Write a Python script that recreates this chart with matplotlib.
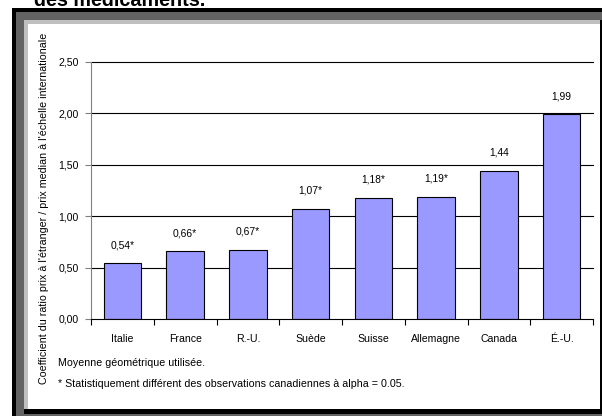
import matplotlib
matplotlib.use("Agg")
import matplotlib.pyplot as plt
from matplotlib.patches import Rectangle
from matplotlib.ticker import FixedLocator, FuncFormatter

# Data
pays = ["Italie", "France", "R.-U.", "Suède", "Suisse", "Allemagne", "Canada", "É.-U."]
ratios = [0.54, 0.66, 0.67, 1.07, 1.18, 1.19, 1.44, 1.99]
significatif = [True, True, True, True, True, True, False, False]
y_ticks = [0.0, 0.5, 1.0, 1.5, 2.0, 2.5]

titre = "des médicaments."
y_label = "Coefficient du ratio prix à l'étranger / prix median à l'échelle internationale"
note1 = "Moyenne géométrique utilisée."
note2 = "* Statistiquement différent des observations canadiennes à alpha = 0.05."

W, H = 602, 416
plt.rcParams["font.family"] = ["Liberation Sans", "DejaVu Sans"]
fig = plt.figure(figsize=(W / 100, H / 100), dpi=100)


def px_rect(x0, y0, x1, y1, color):
    """Rectangle given in pixel coordinates measured from the top-left corner."""
    fig.add_artist(Rectangle((x0 / W, 1 - y1 / H), (x1 - x0) / W, (y1 - y0) / H,
                             transform=fig.transFigure, facecolor=color,
                             edgecolor="none", zorder=0))


# Framed panel with a bevelled border
px_rect(12, 8, 602, 416, "#000000")
px_rect(16, 12, 602, 416, "#636363")
px_rect(24, 20, 602, 414, "#000000")
px_rect(24, 20, 600, 409, "#c0c0c0")
px_rect(28, 24, 600, 409, "#ffffff")

# Title line running off the top edge
fig.text(34 / W, 1 - 5.5 / H, titre, fontsize=14.2, fontweight="bold",
         va="baseline", ha="left", color="black")

ax = fig.add_axes([91 / W, 1 - 319 / H, 502 / W, (319 - 61.7) / H])
ax.set_facecolor("white")
ax.patch.set_alpha(0)

x = list(range(len(pays)))
ax.bar(x, ratios, width=0.6, color="#9999ff", edgecolor="#000000",
       linewidth=0.8, zorder=2)

for xi, v, s in zip(x, ratios, significatif):
    txt = f"{v:.2f}".replace(".", ",") + ("*" if s else "")
    ax.annotate(txt, (xi, v), xytext=(0, 13), textcoords="offset points",
                ha="center", va="center", fontsize=7.4, color="black")

ax.set_xlim(-0.5, len(pays) - 0.5)
ax.set_ylim(0, 2.5)

# Horizontal grid lines
for t in y_ticks[1:]:
    ax.axhline(t, color="black", linewidth=0.8, zorder=1, clip_on=False)

ax.yaxis.set_major_locator(FixedLocator(y_ticks))
ax.yaxis.set_major_formatter(FuncFormatter(lambda v, p: f"{v:.2f}".replace(".", ",")))
ax.tick_params(axis="y", direction="out", length=4, width=0.8, color="#808080",
               pad=5, labelsize=7.6, labelcolor="black")

# Category boundaries as ticks, names centred between them
ax.xaxis.set_major_locator(FixedLocator([i - 0.5 for i in range(len(pays) + 1)]))
ax.xaxis.set_major_formatter(FuncFormatter(lambda v, p: ""))
ax.xaxis.set_minor_locator(FixedLocator(x))
ax.set_xticklabels(pays, minor=True)
ax.tick_params(axis="x", which="major", direction="out", length=4, width=0.8, color="black")
ax.tick_params(axis="x", which="minor", length=0, pad=11, labelsize=7.6, labelcolor="black")

for side in ("top", "right"):
    ax.spines[side].set_visible(False)
ax.spines["left"].set_color("#808080")
ax.spines["left"].set_linewidth(0.8)
ax.spines["bottom"].set_color("black")
ax.spines["bottom"].set_linewidth(0.8)

# Vertical axis title beside the panel
fig.text(44 / W, 1 - 208 / H, y_label, rotation=90, fontsize=7.7,
         ha="center", va="center", color="black")

fig.text(58 / W, 1 - 363 / H, note1, fontsize=7.7, ha="left", va="center", color="black")
fig.text(58 / W, 1 - 384 / H, note2, fontsize=7.7, ha="left", va="center", color="black")

fig.savefig("out.png", dpi=100)
